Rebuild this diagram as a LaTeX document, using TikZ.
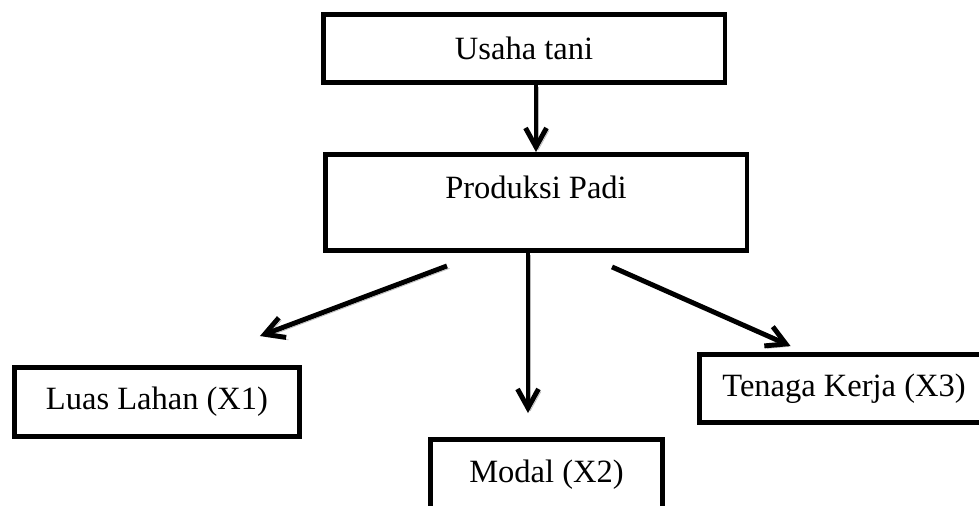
\documentclass[tikz,border=0pt]{standalone}
\usepackage{fontspec}
\setmainfont{Liberation Serif}
\usepackage{tikz}
\usetikzlibrary{calc}
\usetikzlibrary{positioning}
\usetikzlibrary{arrows.meta}

\tikzset{
	box/.style={rectangle, draw, line width=2.8pt, inner sep=0pt, font=\fontsize{18.5}{22}\selectfont},
	flow/.style={line width=2.8pt, -{Straight Barb[length=3.8mm,width=4.2mm]},
		preaction={draw=gray!55, transform canvas={shift={(1.4pt,-1.4pt)}}}}
}

\begin{document}
\begin{tikzpicture}[x=0.02cm, y=-0.02cm]
				\useasboundingbox (0,0) rectangle (979,506);
				\clip (0,0) rectangle (979,506);
				
				\node[box, minimum width=8.04cm, minimum height=1.36cm] (usaha) at (524,48.5) {Usaha tani};
				\node[box, minimum width=8.44cm, minimum height=1.92cm, text depth=0.6cm] (produksi) at (536,202.5) {Produksi Padi};
				\node[box, minimum width=5.7cm, minimum height=1.38cm] (luas) at (157,402) {Luas Lahan (X1)};
				\node[box, minimum width=4.64cm, minimum height=1.4cm] (modal) at (546.5,474.5) {Modal (X2)};
				\node[box, minimum width=5.8cm, minimum height=1.36cm] (tenaga) at (844,388.5) {Tenaga Kerja (X3)};
				
				\draw[flow] (usaha.south -| produksi.north) -- (produksi.north);
				\draw[flow] ($(produksi.south)+(-89,13)$) -- ($(luas.north east)+(-42,-29)$);
				\draw[flow] ($(produksi.south)+(-8,0)$) -- ($(modal.north)+(-18.5,-24)$);
				\draw[flow] ($(produksi.south)+(76,14)$) -- ($(tenaga.north west)+(94,-6)$);
			\end{tikzpicture}
\end{document}
